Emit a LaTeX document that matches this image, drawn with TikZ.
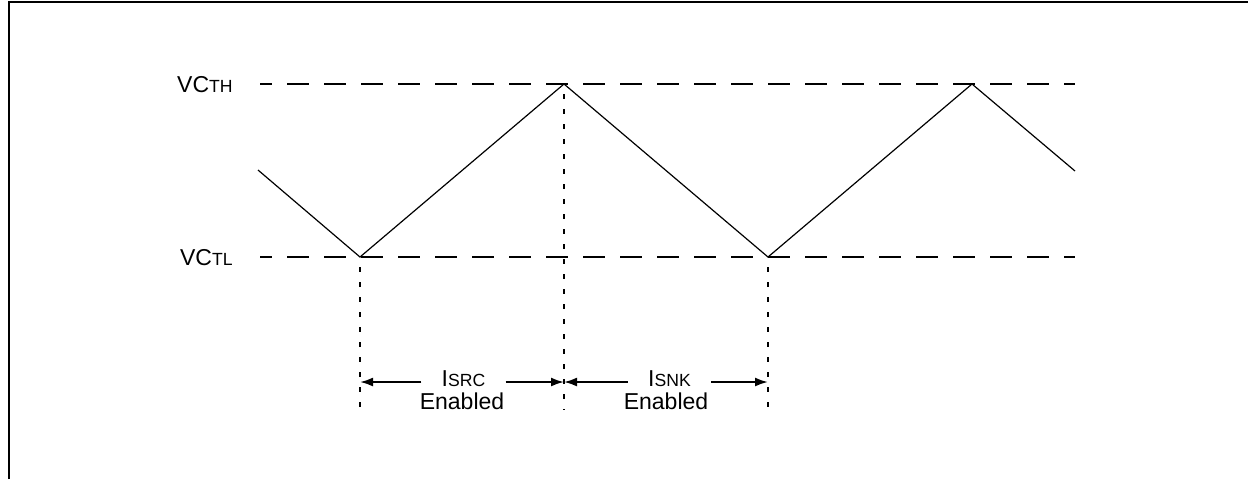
\documentclass[tikz,border=0pt]{standalone}
\usepackage{fontspec}
\setmainfont{Liberation Sans}
\usetikzlibrary{arrows.meta}
\newcommand{\tsub}[1]{{\fontsize{8.8}{9}\selectfont #1}}

\begin{document}
\begin{tikzpicture}[x=0.5pt,y=-0.5pt,
  every node/.style={font=\fontsize{11.5}{11.5}\selectfont, inner sep=0pt},
  level/.style={line width=1pt, dash pattern=on 11pt off 7.5pt, dash phase=5pt},
  marker/.style={line width=1pt, dash pattern=on 2.5pt off 5pt, dash phase=2.5pt},
  wave/.style={line width=0.6pt},
  span/.style={line width=1pt, -{Latex[length=6.5pt,width=4.5pt]}},
  spanlabel/.style={inner xsep=10pt}]
  \useasboundingbox (0,0) rectangle (1248,479);

  % Frame (only top and left edge visible)
  \draw[line width=1pt] (9,479) -- (9,2) -- (1248,2);

  % Waveform corners
  \coordinate (p0) at (258,170);
  \coordinate (p1) at (360,257);
  \coordinate (p2) at (564,84);
  \coordinate (p3) at (768,257);
  \coordinate (p4) at (972,84);
  \coordinate (p5) at (1075,171);
  \coordinate (bot) at (0,410);

  % Threshold levels
  \node[anchor=base east] (vcth) at (233,92) {VC\tsub{TH}};
  \node[anchor=base east] (vctl) at (233,265) {VC\tsub{TL}};
  \coordinate (th0) at (260,84);
  \coordinate (th1) at (1075,84);
  \coordinate (tl0) at (260,257);
  \coordinate (tl1) at (1075,257);
  \draw[level] (th0) -- (th1);
  \draw[level] (tl0) -- (tl1);

  % Triangle wave
  \draw[wave] (p0) -- (p1) -- (p2) -- (p3) -- (p4) -- (p5);

  % Markers
  \foreach \p in {p1,p2,p3}
    \draw[marker] (\p) -- (\p |- bot);

  % Current source / sink intervals
  \node[spanlabel] (isrc) at (463.5,378.5) {I\tsub{SRC}};
  \node (isrcen) at (462,401.5) {Enabled};
  \node[spanlabel] (isnk) at (669.5,378.5) {I\tsub{SNK}};
  \node (isnken) at (666,401.5) {Enabled};

  \draw[span] ([yshift=-1.75pt]isrc.west) -- ([yshift=-1.75pt]isrc.west -| p1);
  \draw[span] ([yshift=-1.75pt]isrc.east) -- ([yshift=-1.75pt]isrc.east -| p2);
  \draw[span] ([yshift=-1.75pt]isnk.west) -- ([yshift=-1.75pt]isnk.west -| p2);
  \draw[span] ([yshift=-1.75pt]isnk.east) -- ([yshift=-1.75pt]isnk.east -| p3);
\end{tikzpicture}
\end{document}
